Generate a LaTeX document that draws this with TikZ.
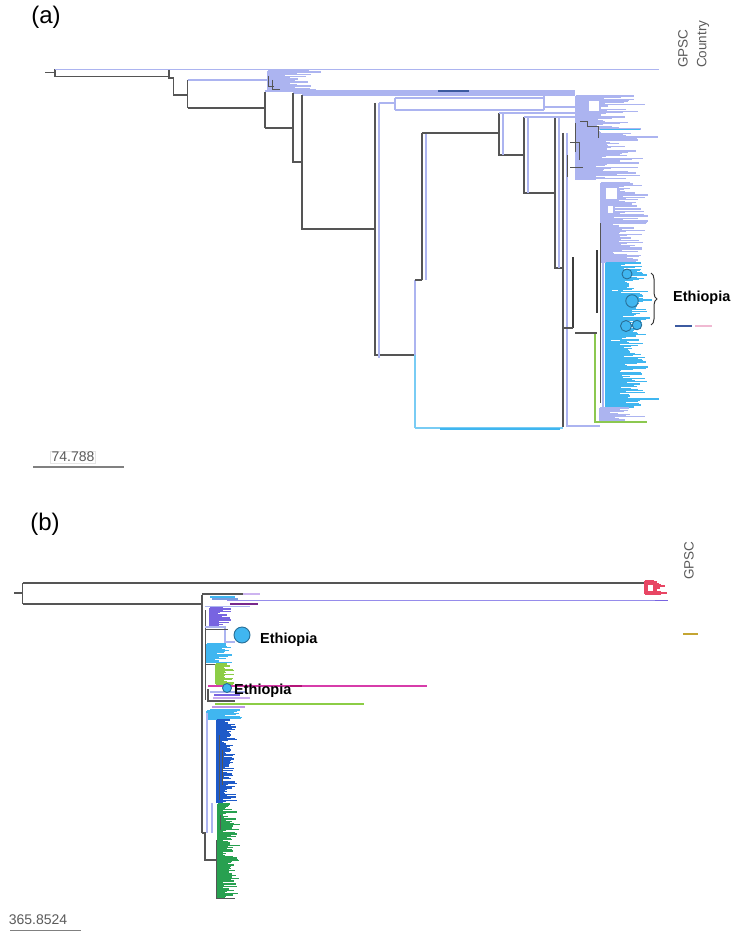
\documentclass[tikz,border=0pt]{standalone}
\usepackage{fontspec}
\setmainfont{Liberation Sans}
\usetikzlibrary{decorations.pathreplacing}
\definecolor{dkg}{RGB}{85,85,85}
\definecolor{lav}{RGB}{172,180,240}
\definecolor{lbl}{RGB}{64,182,240}
\definecolor{grn}{RGB}{140,200,80}
\definecolor{dblue}{RGB}{60,90,160}
\definecolor{pnk}{RGB}{240,185,210}
\definecolor{redc}{RGB}{232,70,100}
\definecolor{purp}{RGB}{120,100,225}
\definecolor{rblue}{RGB}{30,90,200}
\definecolor{dgrn}{RGB}{40,160,80}
\definecolor{ygrn}{RGB}{140,205,70}
\definecolor{mag}{RGB}{215,60,170}
\definecolor{olv}{RGB}{196,165,50}
\definecolor{txtg}{RGB}{90,90,90}
\definecolor{bubo}{RGB}{40,110,150}
\newcommand{\myleafs}[7]{%
  \draw[#1] (#2,#3) -- (#2,#4);
  \pgfmathsetmacro{\myynext}{#3+#5}
  \foreach \yy in {#3,\myynext,...,#4}{
    \pgfmathsetmacro{\myll}{#6+rnd*(#7-#6)}
    \draw[#1] (#2,\yy) -- ++(\myll,0);
  }%
}
\tikzset{
  dk/.style={draw=dkg, line width=1.4pt},
  dkthick/.style={draw=dkg!70!black, line width=2.6pt},
  lv/.style={draw=lav, line width=1.5pt},
  lf/.style={line width=1.35pt},
  bubble/.style={circle, fill=lbl, draw=bubo, line width=0.9pt, inner sep=0pt},
  hdr/.style={rotate=90, anchor=west, text=txtg, font=\fontsize{13.5}{15}\selectfont, inner sep=0pt},
  ethlabel/.style={anchor=west, font=\bfseries\fontsize{14.5}{16}\selectfont, inner sep=0pt},
  panel/.style={font=\fontsize{24}{26}\selectfont, inner sep=0pt},
  scaletxt/.style={text=txtg, font=\fontsize{14}{16}\selectfont, inner sep=1pt},
  scalebar/.style={draw=gray, line width=1.6pt}
}
\begin{document}
\begin{tikzpicture}[x=1pt,y=-1pt]
\useasboundingbox (0,0) rectangle (735,931);
\pgfmathsetseed{11}

% ================= Panel (a) =================
\node[panel] (pa) at (46,17) {(a)};
\node[hdr] (gpsca) at (683,68) {GPSC};
\node[hdr] (countrya) at (703,68) {Country};

% root
\draw[dk] (45,72.7) -- (55,72.7);
\draw[dk] (55,69.3) -- (55,76.7);
\draw[lv] (55,69.3) -- (659,69.3);
\draw[dk] (55,76.7) -- (169,76.7);
\draw[dk] (169,70) -- (169,78) -- (173.5,78) -- (173.5,95) -- (187.5,95);
\draw[dk] (187.5,80) -- (187.5,108);
\draw[lv] (187.5,80) -- (268,80);
% small upper-left cluster
\myleafs{lav, lf}{268}{71}{91}{1.15}{15}{55}
\draw[dk, line width=0.7pt] (268,76) -- (268,86) -- (274,86);
\draw[dk, line width=0.7pt] (272,80) -- (272,89) -- (280,89);

\draw[dk] (187.5,108) -- (265,108);
\draw[dk] (265,92) -- (265,128);
\draw[lv] (265,91) -- (575,91);
\draw[lv] (293,93) -- (575,93);
\draw[lv] (302,95) -- (575,95);
\draw[draw=dblue, line width=1.4pt] (438,91) -- (469,91);
\draw[dk] (265,128) -- (293,128);
\draw[dk] (293,93) -- (293,162) -- (302,162);
\draw[dk] (302,95) -- (302,229) -- (375,229);
\draw[dk] (375,103) -- (375,355) -- (415,355);
\draw[lv] (379,103) -- (379,358);
\draw[lv] (379,103) -- (395,103);
\draw[lv] (395,98) -- (395,110);
\draw[lv] (395,98) -- (544,98);
\draw[lv] (395,110) -- (544,110);
\draw[lv] (544,96) -- (544,110);
\draw[lv] (544,107) -- (575,107);
% lower stem
\draw[lv] (415,280) -- (415,355);
\draw[draw=lbl!70, line width=1.5pt] (415,355) -- (415,428);
\draw[dk] (415,280) -- (422,280);
\draw[dk] (422,133) -- (422,280);
\draw[lv] (426,133) -- (426,280);
\draw[dk] (422,133) -- (499,133);
\draw[dk] (499,113) -- (499,155) -- (524,155);
\draw[lv] (503,113) -- (503,155);
\draw[lv] (499,113) -- (575,113);
\draw[dk] (524,117) -- (524,193) -- (555,193);
\draw[lv] (528,117) -- (528,193);
\draw[lv] (524,117) -- (575,117);
\draw[dk] (555,118) -- (555,268) -- (563,268);
\draw[lv] (559,118) -- (559,268);
\draw[dk] (563,133) -- (563,427);
\draw[lv] (567,133) -- (567,427);
\draw[draw=lbl!70, line width=1.5pt] (415,428) -- (563,428);
\draw[draw=lbl, line width=2.2pt] (440,429) -- (560,429);
\draw[lv] (567,426) -- (600,426);

% right clusters
\myleafs{lav, lf}{576}{96}{180}{1.1}{18}{72}
\draw[lv, fill=white] (588,100) rectangle (600,112);
\draw[dk, line width=1pt] (575,123) -- (575,152);
\draw[dk, line width=1pt] (580,122) -- (587,122) -- (587,127) -- (598,127) -- (598,138);
\draw[dk, line width=1pt] (567,155) -- (567,177);
\draw[dk, line width=1pt] (570,167) -- (583,167);
\draw[dk, line width=1pt] (570,142) -- (579,142) -- (579,160);
\draw[draw=lbl, line width=1pt] (600,130) -- (640,130);
\draw[lav, line width=1.2pt] (600,137) -- (658,137);

\myleafs{lav, lf}{601}{183}{263}{1.1}{12}{48}
\draw[lv, fill=white] (605,187) rectangle (618,200);
\draw[lv, fill=white] (607,205) rectangle (614,214);
\draw[lv] (603,183) -- (603,420);

\myleafs{lbl, lf}{606}{263}{408}{1.1}{14}{42}
\draw[lbl, lf] (606,300) -- (652,300);
\draw[lbl, lf] (606,367) -- (648,367);
\draw[lbl, lf] (606,399) -- (659,399);
\draw[lbl, lf] (606,318) -- (650,318);
\draw[white, line width=0.8pt] (612,290) -- (618,290);
\draw[white, line width=0.8pt] (611,340) -- (620,340);
\myleafs{lav, lf}{600}{408}{421}{1.1}{10}{45}

\draw[draw=grn, line width=1.4pt] (595,333) -- (595,422) -- (647,422);
\draw[dkthick] (573,257) -- (573,328);
\draw[dkthick] (597,250) -- (597,313);
\draw[dk, line width=1pt] (600,223) -- (600,403);
\draw[dk] (563,328) -- (573,328);
\draw[dk] (575,333) -- (597,333);

\node[bubble, minimum size=10pt] (b1) at (627,274) {};
\node[bubble, minimum size=12.5pt] (b2) at (632,301) {};
\node[bubble, minimum size=11pt] (b3) at (626,326) {};
\node[bubble, minimum size=9.5pt] (b4) at (637,325) {};

\coordinate (brt) at (651,273);
\coordinate (brb) at (651,325);
\draw[decorate, decoration={brace, amplitude=6pt}, line width=1pt, black!80] (brt) -- (brb);
\node[ethlabel] (etha) at (673,298) {Ethiopia};
\draw[draw=dblue, line width=2.6pt] (675,326) -- (692,326);
\draw[draw=pnk, line width=2.6pt] (695,326) -- (712,326);

\node[scaletxt, draw=gray!20, line width=0.5pt] (sca) at (73,457) {74.788};
\coordinate (scal) at (33,467);
\coordinate (scar) at (124,467);
\draw[scalebar] (scal) -- (scar);

% ================= Panel (b) =================
\node[panel] (pb) at (45,524) {(b)};
\node[hdr] (gpscb) at (689,580) {GPSC};

\draw[dk] (14,593) -- (22.5,593);
\draw[dk] (22.5,583) -- (22.5,604);
\draw[dk] (22.5,583) -- (645,583);
\draw[dk] (22.5,604) -- (202,604);
\myleafs{redc, lf}{645}{581}{594}{1.0}{8}{23}
\draw[draw=redc, fill=white, line width=1pt] (647,584) rectangle (653,591);

\draw[dk] (202,595) -- (202,833);
\draw[dk] (202,594) -- (243,594);
\draw[draw={rgb,255:red,205;green,180;blue,240}, line width=2.4pt] (243,594) -- (260,594);
\draw[draw=lbl, line width=1.4pt] (210,597) -- (235,597);
\draw[draw=rblue!60, line width=1.4pt] (212,599) -- (238,599);
\draw[draw={rgb,255:red,150;green,140;blue,235}, line width=1.5pt] (227,600.5) -- (668,600.5);
\draw[draw=purp, line width=1.8pt] (655,600.5) -- (668,600.5);
\draw[draw={rgb,255:red,120;green,40;blue,140}, line width=2pt] (230,603.5) -- (258,603.5);
\draw[draw=lav, line width=1.4pt] (205,606.5) -- (250,606.5);
\myleafs{purp, lf}{210}{608}{626}{1.1}{8}{25}
\draw[dk, line width=1pt] (205,610) -- (205,700);

\draw[draw=lav, line width=1.2pt] (205,627) -- (225,627) -- (225,642) -- (235,642);
\draw[dk, line width=1pt] (205,629) -- (228,629);
\node[bubble, minimum size=16pt] (b5) at (242,635) {};
\node[ethlabel] (ethb1) at (260,640) {Ethiopia};

\myleafs{lbl, lf}{207}{644}{663}{1.1}{8}{25}
\draw[dk, line width=1pt] (205,664) -- (216,664);
\myleafs{ygrn, lf}{216}{664}{684}{1.05}{8}{18}

\draw[draw=mag, line width=1.3pt] (208,686) -- (427,686);
\draw[draw={rgb,255:red,180;green,20;blue,120}, line width=2.2pt] (290,686) -- (302,686);
\draw[draw=lav, line width=1.3pt] (210,692) -- (245,692);
\draw[draw=purp, line width=1.3pt] (214,695) -- (240,695);
\draw[draw={rgb,255:red,200;green,170;blue,240}, line width=1.3pt] (213,698) -- (250,698);
\draw[dk, line width=1.1pt] (208,689) -- (208,701) -- (235,701);
\draw[draw=ygrn, line width=1.3pt] (215,704) -- (364,704);
\draw[draw={rgb,255:red,190;green,150;blue,230}, line width=1.3pt] (212,707) -- (245,707);
\draw[draw=lbl, line width=1.3pt] (210,710) -- (240,710);
\node[bubble, minimum size=9pt] (b6) at (227,688) {};
\node[ethlabel] (ethb2) at (234,691) {Ethiopia};

\myleafs{lbl, lf}{207}{711}{720}{1.1}{15}{35}
\myleafs{rblue, lf}{217}{720}{803}{1.15}{5}{20}
\draw[dk, line width=1pt] (219,735) -- (219,800);
\draw[dk, line width=1pt] (222,750) -- (222,785);
\draw[lv] (207,713) -- (207,833);
\myleafs{dgrn, lf}{218}{804}{898}{1.15}{5}{22}
\draw[draw=lav, line width=1.2pt] (212,803) -- (212,833);
\draw[dk] (202,833) -- (205,833) -- (205,860) -- (216,860);
\draw[dk, line width=1pt] (216,840) -- (216,898) -- (235,898);
\draw[dk, line width=1pt] (220,815) -- (220,830);

\draw[draw=olv, line width=2.8pt] (683,634) -- (698,634);

\node[scaletxt] (scb) at (38,920) {365.8524};
\coordinate (scbl) at (10,930);
\coordinate (scbr) at (81,930);
\draw[scalebar, line width=1pt] (scbl) -- (scbr);
\end{tikzpicture}
\end{document}
